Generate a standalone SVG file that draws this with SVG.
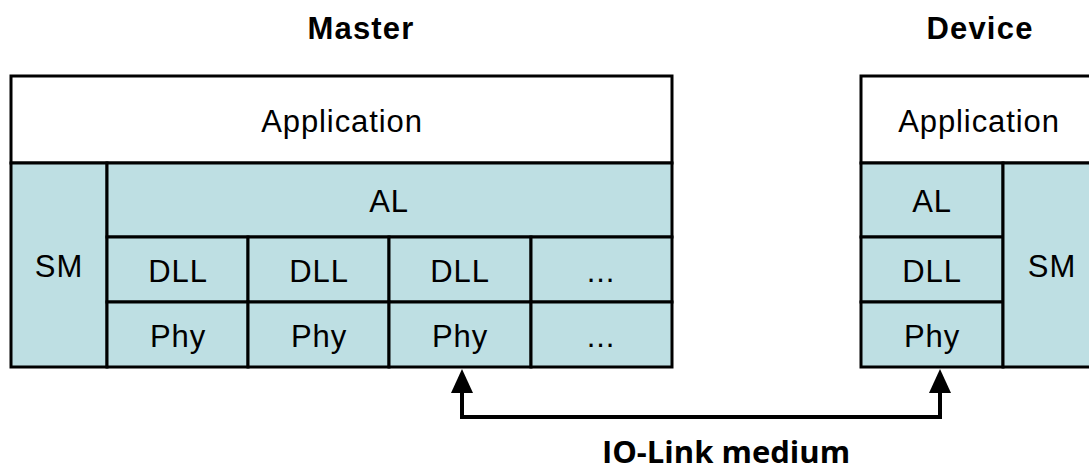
<svg xmlns="http://www.w3.org/2000/svg" width="1089" height="470" viewBox="0 0 1089 470">
<style>
.cell{fill:#BEDFE3;stroke:#000;stroke-width:3}
.app{fill:#fff;stroke:#000;stroke-width:3}
.t{font-family:"Liberation Sans",Arial,sans-serif;font-size:31px;letter-spacing:0.9px;text-anchor:middle;fill:#000}
.h{font-family:"Liberation Sans",Arial,sans-serif;font-size:31px;font-weight:bold;letter-spacing:1.2px;text-anchor:middle;fill:#000}
.m{font-family:"Open Sans",sans-serif;font-size:31px;font-weight:bold;text-anchor:middle;fill:#000}
.ln{fill:none;stroke:#000;stroke-width:4}
</style>
<rect width="1089" height="470" fill="#fff"/>
<text class="h" x="361" y="39">Master</text>
<text class="h" x="980" y="39">Device</text>
<g id="master">
  <g id="m-app"><rect class="app" x="11" y="76" width="661" height="87"/><text class="t" x="342" y="132">Application</text></g>
  <g id="m-sm"><rect class="cell" x="11" y="163" width="96" height="204"/><text class="t" x="59" y="277">SM</text></g>
  <g id="m-al"><rect class="cell" x="107" y="163" width="565" height="74"/><text class="t" x="389" y="212">AL</text></g>
  <g id="m-dll1"><rect class="cell" x="107" y="237" width="141" height="65"/><text class="t" x="178" y="282">DLL</text></g>
  <g id="m-dll2"><rect class="cell" x="248" y="237" width="141" height="65"/><text class="t" x="319" y="282">DLL</text></g>
  <g id="m-dll3"><rect class="cell" x="389" y="237" width="142" height="65"/><text class="t" x="460" y="282">DLL</text></g>
  <g id="m-dll4"><rect class="cell" x="531" y="237" width="141" height="65"/><text class="t" x="601" y="282">...</text></g>
  <g id="m-phy1"><rect class="cell" x="107" y="302" width="141" height="65"/><text class="t" x="178" y="347">Phy</text></g>
  <g id="m-phy2"><rect class="cell" x="248" y="302" width="141" height="65"/><text class="t" x="319" y="347">Phy</text></g>
  <g id="m-phy3"><rect class="cell" x="389" y="302" width="142" height="65"/><text class="t" x="460" y="347">Phy</text></g>
  <g id="m-phy4"><rect class="cell" x="531" y="302" width="141" height="65"/><text class="t" x="601" y="347">...</text></g>
</g>
<g id="device">
  <g id="d-app"><rect class="app" x="861" y="76" width="236" height="87"/><text class="t" x="979" y="132">Application</text></g>
  <g id="d-al"><rect class="cell" x="861" y="163" width="142" height="74"/><text class="t" x="932" y="212">AL</text></g>
  <g id="d-dll"><rect class="cell" x="861" y="237" width="142" height="65"/><text class="t" x="932" y="282">DLL</text></g>
  <g id="d-phy"><rect class="cell" x="861" y="302" width="142" height="65"/><text class="t" x="932" y="347">Phy</text></g>
  <g id="d-sm"><rect class="cell" x="1003" y="163" width="94" height="204"/><text class="t" x="1052" y="277">SM</text></g>
</g>
<g id="connectors">
  <path class="ln" d="M462,392 V417 H940 V392"/>
  <polygon points="462,369 451,393 473,393" fill="#000"/>
  <polygon points="940,369 929,393 951,393" fill="#000"/>
</g>
<text class="m" x="726" y="463">IO-Link medium</text>
</svg>
